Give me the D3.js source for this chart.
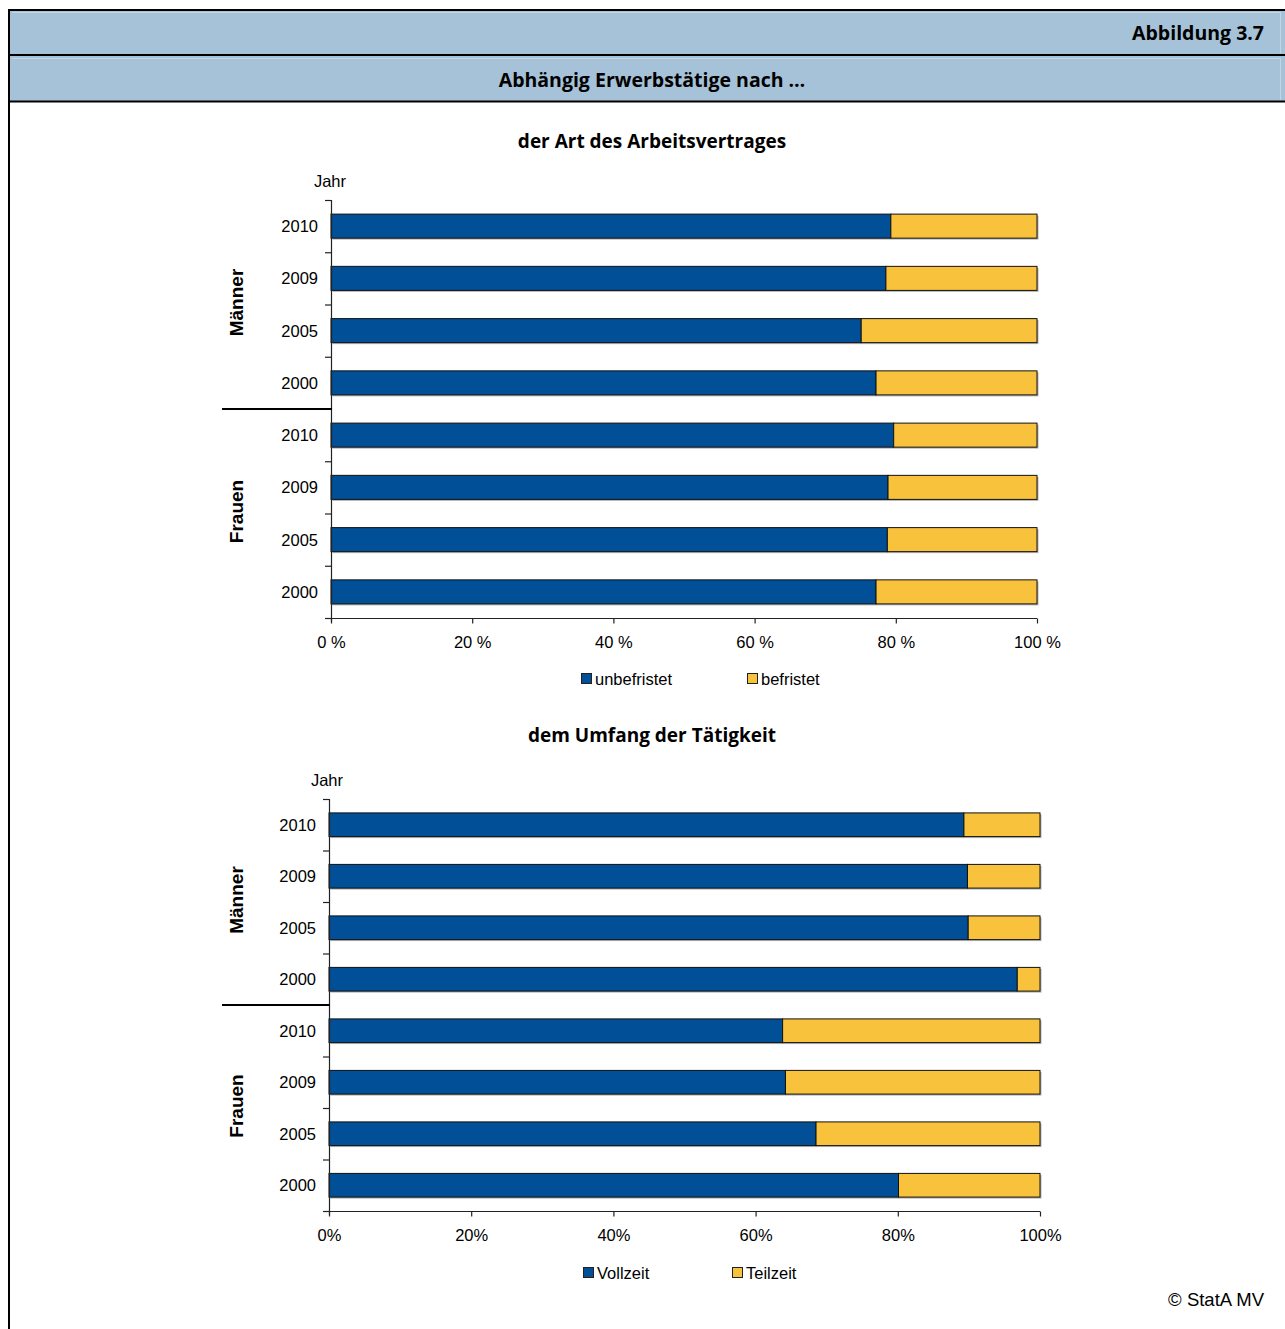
<!DOCTYPE html>
<html>
<head>
<meta charset="utf-8">
<script src="https://cdn.jsdelivr.net/npm/d3@7"></script>
<style>
  html, body { margin: 0; padding: 0; background: #fff; }
  svg { display: block; }
</style>
</head>
<body>
<svg id="fig" width="1285" height="1329"></svg>
<script>
// Categories: years within each group, top to bottom
const years = ["2010", "2009", "2005", "2000"];
const groups = ["Männer", "Frauen"];

// Contract type shares (percent), Männer 2010..2000 then Frauen 2010..2000
const unbefristet = [79.3, 78.6, 75.1, 77.2, 79.7, 78.9, 78.8, 77.2];
const befristet   = [20.7, 21.4, 24.9, 22.8, 20.3, 21.1, 21.2, 22.8];

// Working time shares (percent), same order
const vollzeit = [89.3, 89.8, 89.9, 96.8, 63.8, 64.2, 68.5, 80.1];
const teilzeit = [10.7, 10.2, 10.1,  3.2, 36.2, 35.8, 31.5, 19.9];

const xTicks = [0, 20, 40, 60, 80, 100];

const BLUE = "#004f97";
const YELLOW = "#f9c23c";
const HEADER = "#a6c2d8";
const TITLE_FONT = "'Open Sans', Lato, sans-serif";
const BODY_FONT = "'Liberation Sans', Arial, sans-serif";

const svg = d3.select("#fig");

// ---- frame and header ----
svg.append("rect").attr("x", 9).attr("y", 10).attr("width", 1276).attr("height", 44).attr("fill", HEADER);
svg.append("rect").attr("x", 9).attr("y", 56).attr("width", 1276).attr("height", 45).attr("fill", HEADER);
// faint inner edges of header cells
[[12, 12.5, 1280, 12.5], [12, 58.5, 1280, 58.5], [1280.5, 12, 1280.5, 53], [1280.5, 58, 1280.5, 100]].forEach(d => {
  svg.append("line").attr("x1", d[0]).attr("y1", d[1]).attr("x2", d[2]).attr("y2", d[3])
    .attr("stroke", "#c4d6e4").attr("stroke-width", 1);
});
[[9, 10], [9, 55], [9, 101.5]].forEach(d => {
  svg.append("line").attr("x1", d[0]).attr("y1", d[1]).attr("x2", 1285).attr("y2", d[1])
    .attr("stroke", "#000").attr("stroke-width", 2);
});
svg.append("line").attr("x1", 9).attr("y1", 9).attr("x2", 9).attr("y2", 1329)
  .attr("stroke", "#000").attr("stroke-width", 2);

svg.append("text").attr("x", 1264).attr("y", 40).attr("text-anchor", "end")
  .attr("font-family", TITLE_FONT).attr("font-weight", 700).attr("font-size", 19.5)
  .attr("fill", "#000").text("Abbildung 3.7");
svg.append("text").attr("x", 652).attr("y", 87).attr("text-anchor", "middle")
  .attr("font-family", TITLE_FONT).attr("font-weight", 700).attr("font-size", 19.5)
  .attr("fill", "#000").text("Abhängig Erwerbstätige nach …");

svg.append("text").attr("x", 1264).attr("y", 1306).attr("text-anchor", "end")
  .attr("font-family", BODY_FONT).attr("font-size", 18.5)
  .attr("fill", "#000").text("© StatA MV");

// ---- one stacked 100% bar chart ----
function drawChart(cfg) {
  const rows = [];
  groups.forEach((g, gi) => years.forEach((y, yi) => {
    const i = gi * years.length + yi;
    rows.push({ key: g + "-" + y, group: g, year: y, a: cfg.seriesA[i], b: cfg.seriesB[i] });
  }));

  const x = d3.scaleLinear().domain([0, 1]).range([cfg.x0, cfg.x1]);
  const y = d3.scaleBand().domain(rows.map(r => r.key)).range([cfg.yTop, cfg.yBottom])
    .paddingInner(0.54).paddingOuter(0.27);

  const stack = d3.stack().keys(["a", "b"]).offset(d3.stackOffsetExpand);
  const layers = stack(rows);
  const colors = { a: BLUE, b: YELLOW };

  const g = svg.append("g");

  // title
  g.append("text").attr("x", cfg.titleX).attr("y", cfg.titleY).attr("text-anchor", "middle")
    .attr("font-family", TITLE_FONT).attr("font-weight", 700).attr("font-size", 19)
    .attr("fill", "#000").text(cfg.title);

  // bar shadows
  g.append("g").selectAll("rect").data(rows).join("rect")
    .attr("x", x(0) + 1.5).attr("y", d => y(d.key) + 1.5)
    .attr("width", x(1) - x(0)).attr("height", y.bandwidth())
    .attr("fill", "#b3b3b3");

  // stacked segments
  layers.forEach(layer => {
    g.append("g").selectAll("rect").data(layer).join("rect")
      .attr("x", d => x(d[0]))
      .attr("y", d => y(d.data.key))
      .attr("width", d => x(d[1]) - x(d[0]))
      .attr("height", y.bandwidth())
      .attr("fill", colors[layer.key])
      .attr("stroke", "#111").attr("stroke-width", 1);
  });

  // y axis line with ticks at band boundaries
  const axisCol = "#222";
  g.append("line").attr("x1", cfg.x0 + 0.5).attr("x2", cfg.x0 + 0.5)
    .attr("y1", cfg.yTop).attr("y2", cfg.yBottom + 4).attr("stroke", axisCol).attr("stroke-width", 1.2);
  const boundaries = d3.range(rows.length + 1).map(i => cfg.yTop + i * (cfg.yBottom - cfg.yTop) / rows.length);
  boundaries.forEach((by, i) => {
    if (i === years.length) return;
    g.append("line").attr("x1", cfg.x0 - 6).attr("x2", cfg.x0)
      .attr("y1", by + 0.5).attr("y2", by + 0.5).attr("stroke", axisCol).attr("stroke-width", 1.2);
  });
  // group separator
  const sepY = boundaries[years.length];
  g.append("line").attr("x1", 222).attr("x2", cfg.x0 + 1)
    .attr("y1", sepY).attr("y2", sepY).attr("stroke", "#000").attr("stroke-width", 2);

  // year labels
  g.append("g").selectAll("text").data(rows).join("text")
    .attr("x", cfg.labelX).attr("y", d => y(d.key) + y.bandwidth() / 2 + 6)
    .attr("text-anchor", "end")
    .attr("font-family", BODY_FONT).attr("font-size", 16.5)
    .attr("fill", "#000").text(d => d.year);

  // group labels (rotated)
  groups.forEach((gr, gi) => {
    const cy = (boundaries[gi * years.length] + boundaries[(gi + 1) * years.length]) / 2;
    g.append("text").attr("transform", `translate(${243},${cy - 2}) rotate(-90)`)
      .attr("text-anchor", "middle")
      .attr("font-family", BODY_FONT).attr("font-weight", 700).attr("font-size", 19)
      .attr("fill", "#000").text(gr);
  });

  g.append("text").attr("x", cfg.jahrX).attr("y", cfg.yTop - 13).attr("text-anchor", "middle")
    .attr("font-family", BODY_FONT).attr("font-size", 16.5)
    .attr("fill", "#000").text("Jahr");

  // x axis
  const xPct = d3.scaleLinear().domain([0, 100]).range([cfg.x0, cfg.x1]);
  const xAxis = d3.axisBottom(xPct).tickValues(xTicks).tickSize(5).tickSizeOuter(0)
    .tickFormat(d => d + cfg.pctSuffix);
  const ax = g.append("g").attr("transform", `translate(0,${cfg.yBottom + 0.5})`).call(xAxis);
  ax.select(".domain").attr("stroke", axisCol).attr("stroke-width", 1.2)
    .attr("d", `M${cfg.x0 - 6},0H${cfg.x1}`);
  ax.selectAll(".tick line").attr("stroke", axisCol).attr("stroke-width", 1.2);
  ax.selectAll(".tick text").attr("y", 24).attr("dy", "0.32em")
    .attr("font-family", BODY_FONT).attr("font-size", 16.5).attr("fill", "#000");

  // legend
  cfg.legend.forEach(item => {
    g.append("rect").attr("x", item.x + 0.5).attr("y", cfg.legendY - 5.5).attr("width", 10).attr("height", 10)
      .attr("fill", item.color).attr("stroke", "#222").attr("stroke-width", 1);
    g.append("text").attr("x", item.x + 14).attr("y", cfg.legendY + 6)
      .attr("font-family", BODY_FONT).attr("font-size", 16.5)
      .attr("fill", "#000").text(item.label);
  });
}

drawChart({
  title: "der Art des Arbeitsvertrages", titleX: 652, titleY: 148,
  seriesA: unbefristet, seriesB: befristet,
  x0: 331, x1: 1037, yTop: 200, yBottom: 618,
  labelX: 318, jahrX: 330, pctSuffix: " %",
  legendY: 679,
  legend: [{ x: 581, label: "unbefristet", color: BLUE }, { x: 747, label: "befristet", color: YELLOW }]
});

drawChart({
  title: "dem Umfang der Tätigkeit", titleX: 652, titleY: 742,
  seriesA: vollzeit, seriesB: teilzeit,
  x0: 329, x1: 1040, yTop: 799, yBottom: 1211,
  labelX: 316, jahrX: 327, pctSuffix: "%",
  legendY: 1273,
  legend: [{ x: 583, label: "Vollzeit", color: BLUE }, { x: 732, label: "Teilzeit", color: YELLOW }]
});
</script>
</body>
</html>
